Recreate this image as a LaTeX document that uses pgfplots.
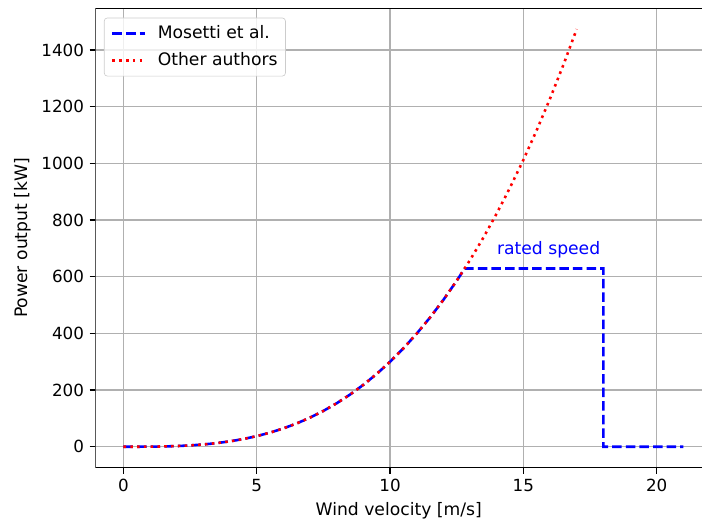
\documentclass[border=0pt]{standalone}
\usepackage{fontspec}
\setmainfont{DejaVu Sans}
\usepackage{pgfplots}
\pgfplotsset{compat=1.18}
\definecolor{gridgray}{RGB}{176,176,176}
\definecolor{legendgray}{RGB}{204,204,204}
\begin{document}
\begin{tikzpicture}
\path[use as bounding box] (-61.1pt,-36.7pt) rectangle (388.2pt,299.3pt);
\begin{axis}[
  scale only axis,
  width=388.2pt, height=294pt,
  xmin=-1.05, xmax=21.7,
  ymin=-73.7, ymax=1547.6,
  xtick={0,5,10,15,20},
  ytick={0,200,400,600,800,1000,1200,1400},
  /pgf/number format/assume math mode=true,
  /pgf/number format/1000 sep={},
  tick label style={font=\fontsize{10.7}{12.8}\selectfont, black},
  label style={font=\fontsize{11}{13.2}\selectfont},
  xlabel={Wind velocity [m/s]},
  ylabel={Power output [kW]},
  grid=major,
  major grid style={color=gridgray, line width=0.8pt},
  axis line style={draw=none},
  tick style={line width=0.8pt, black},
  major tick length=3.8pt,
  tick align=outside,
  xtick pos=bottom, ytick pos=left,
  legend cell align=left,
  legend style={at={(0,1)}, anchor=north west, xshift=5.4pt, yshift=-6pt,
    draw=legendgray, rounded corners=2pt, fill=white, fill opacity=0.8, text opacity=1,
    font=\fontsize{11}{13.2}\selectfont, inner xsep=3pt, inner ysep=3pt, row sep=3.5pt},
  legend image code/.code={\path[draw=none,fill=none] (-2.3pt,0pt) rectangle (27pt,0.1pt); \draw[#1] (0pt,0pt) -- (21pt,0pt);},
]
\addplot[blue, line width=1.64pt, dash pattern=on 6.08pt off 2.62pt] coordinates {
(0,0) (0.5,0.0375) (1,0.3) (1.5,1.0125) (2,2.4) (2.5,4.6875) (3,8.1) (3.5,12.8625)
(4,19.2) (4.5,27.3375) (5,37.5) (5.5,49.9125) (6,64.8) (6.5,82.3875) (7,102.9)
(7.5,126.5625) (8,153.6) (8.5,184.2375) (9,218.7) (9.5,257.2125) (10,300)
(10.5,347.2875) (11,399.3) (11.5,456.2625) (12,518.4) (12.5,585.9375) (12.8,629.1)
(18,629.1) (18,0) (21,0)
};
\addlegendentry{Mosetti et al.}
\addplot[red, line width=1.64pt, dash pattern=on 1.64pt off 2.71pt] coordinates {
(0,0) (0.5,0.0375) (1,0.3) (1.5,1.0125) (2,2.4) (2.5,4.6875) (3,8.1) (3.5,12.8625)
(4,19.2) (4.5,27.3375) (5,37.5) (5.5,49.9125) (6,64.8) (6.5,82.3875) (7,102.9)
(7.5,126.5625) (8,153.6) (8.5,184.2375) (9,218.7) (9.5,257.2125) (10,300)
(10.5,347.2875) (11,399.3) (11.5,456.2625) (12,518.4) (12.5,585.9375) (13,659.1)
(13.5,738.1125) (14,823.2) (14.5,914.6625) (15,1012.5) (15.5,1117.1625) (16,1228.8)
(16.5,1347.6375) (17,1473.9)
};
\addlegendentry{Other authors}
\node[anchor=base west, inner sep=0pt, text=blue, font=\fontsize{11}{13.2}\selectfont] at (axis cs:14,680) {rated speed};
\draw[black, line width=0.8pt] (rel axis cs:1,0) -- (rel axis cs:0,0) -- (rel axis cs:0,1) -- (rel axis cs:1,1);
\end{axis}
\end{tikzpicture}
\end{document}
